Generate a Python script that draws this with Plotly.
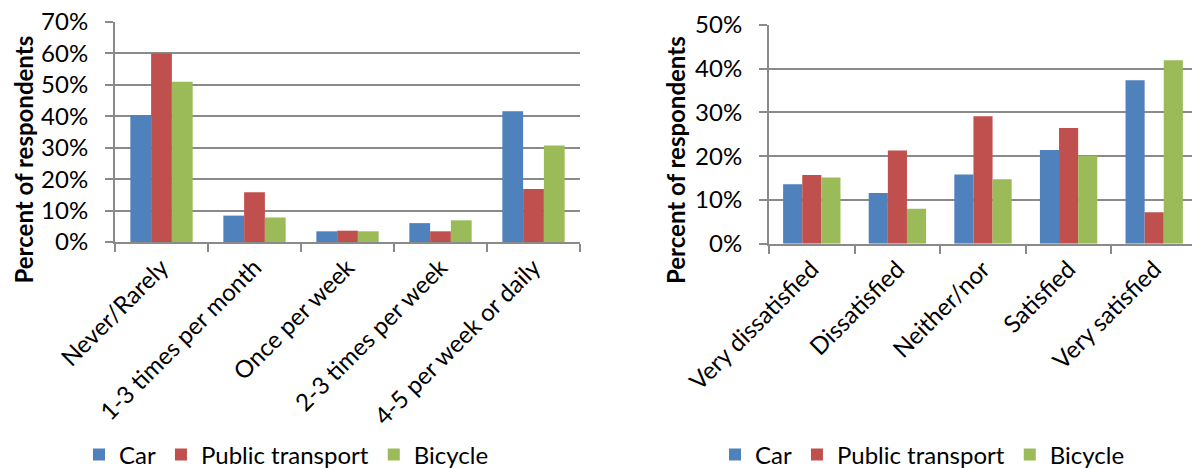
import plotly.graph_objects as go

# Frequency of use by transport mode (percent of respondents)
freq_categories = ["Never/Rarely", "1-3 times per month", "Once per week",
                   "2-3 times per week", "4-5 per week or daily"]
freq_car = [40.4, 8.4, 3.4, 6.0, 41.6]
freq_public = [60.0, 15.8, 3.6, 3.4, 16.9]
freq_bicycle = [51.0, 7.8, 3.4, 6.9, 30.7]

# Satisfaction by transport mode (percent of respondents)
sat_categories = ["Very dissatisfied", "Dissatisfied", "Neither/nor",
                  "Satisfied", "Very satisfied"]
sat_car = [13.6, 11.6, 15.8, 21.4, 37.3]
sat_public = [15.7, 21.3, 29.1, 26.4, 7.2]
sat_bicycle = [15.1, 8.0, 14.7, 20.1, 41.9]

mode_names = ["Car", "Public transport", "Bicycle"]
mode_colors = ["#4F81BD", "#C0504D", "#9BBB59"]

W, H = 1192, 468
FONT = "Lato"
GRID = "#8a8a8a"
FS = 24


def px_x(v):
    return v / W


def px_y(v):
    return (H - v) / H


fig = go.Figure()

for name, color, vals in zip(mode_names, mode_colors,
                             [freq_car, freq_public, freq_bicycle]):
    fig.add_trace(go.Bar(x=freq_categories, y=vals, name=name,
                         marker=dict(color=color, line=dict(width=0)),
                         xaxis="x", yaxis="y", legend="legend"))

for name, color, vals in zip(mode_names, mode_colors,
                             [sat_car, sat_public, sat_bicycle]):
    fig.add_trace(go.Bar(x=sat_categories, y=vals, name=name,
                         marker=dict(color=color, line=dict(width=0)),
                         xaxis="x2", yaxis="y2", legend="legend2"))

axis_common = dict(showline=True, linecolor=GRID, linewidth=2,
                   ticks="outside", ticklen=8, tickwidth=2, tickcolor=GRID,
                   automargin=False,
                   tickfont=dict(family=FONT, size=FS, color="black"))

legend_common = dict(orientation="h", xref="container", yref="container",
                     xanchor="left", yanchor="middle", bgcolor="rgba(0,0,0,0)",
                     borderwidth=0,
                     font=dict(family=FONT, size=FS, color="black"))

fig.update_layout(
    width=W, height=H,
    margin=dict(l=0, r=0, t=0, b=0, autoexpand=False),
    paper_bgcolor="white", plot_bgcolor="white",
    barmode="group", bargap=0.33, bargroupgap=0,
    font=dict(family=FONT, size=FS, color="black"),
    xaxis=dict(domain=[px_x(115), px_x(580)], anchor="y",
               type="category", range=[-0.5, 4.5], tickangle=-45,
               tickson="boundaries", showgrid=False, **axis_common),
    yaxis=dict(domain=[px_y(242), px_y(22)], anchor="x",
               range=[0, 70], dtick=10, ticksuffix="%", ticklabelstandoff=12,
               showgrid=True, gridcolor=GRID, gridwidth=2, zeroline=False,
               **axis_common),
    xaxis2=dict(domain=[px_x(769), 1.0], anchor="y2",
                type="category", range=[-0.5, 4.5 - 5 / 85.7], tickangle=-45,
                tickson="boundaries", showgrid=False, **axis_common),
    yaxis2=dict(domain=[px_y(243.7), px_y(24.7)], anchor="x2",
                range=[0, 50], dtick=10, ticksuffix="%", ticklabelstandoff=12,
                showgrid=True, gridcolor=GRID, gridwidth=2, zeroline=False,
                **axis_common),
    legend=dict(x=px_x(79), y=px_y(455), **legend_common),
    legend2=dict(x=px_x(715), y=px_y(455), **legend_common),
)

# Rotated y-axis titles
for xc, yc in [(22.5, 160), (675, 160)]:
    fig.add_annotation(text="<b>Percent of respondents</b>",
                       xref="paper", yref="paper",
                       x=px_x(xc), y=px_y(yc), xanchor="center", yanchor="middle",
                       textangle=-90, showarrow=False,
                       font=dict(family=FONT, size=FS, color="black"))

fig.write_html("out.html")
